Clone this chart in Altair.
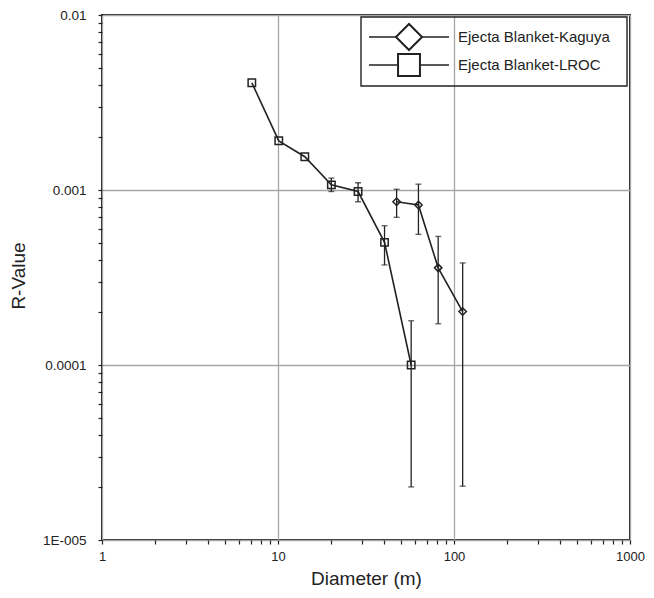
import altair as alt
import pandas as pd

# ---- data ----
kaguya_label = "Ejecta Blanket-Kaguya"
lroc_label = "Ejecta Blanket-LROC"

kag_D = [47.2, 62.8, 81.3, 112.0]
kag_R = [0.000857, 0.00082, 0.000359, 0.000202]
kag_hi = [0.00101, 0.00108, 0.000543, 0.000383]
kag_lo = [0.000698, 0.000558, 0.000172, 0.0000203]

lroc_D = [7.1, 10.1, 14.2, 20.1, 28.5, 40.3, 57.1]
lroc_R = [0.0041, 0.00191, 0.00155, 0.00107, 0.00098, 0.000502, 0.0001]
lroc_hi = [None, None, None, 0.00117, 0.0011, 0.000625, 0.000179]
lroc_lo = [None, None, None, 0.00098, 0.000857, 0.000373, 0.0000201]

x_ticks = [1, 2, 3, 4, 5, 6, 7, 8, 9,
           10, 20, 30, 40, 50, 60, 70, 80, 90,
           100, 200, 300, 400, 500, 600, 700, 800, 900, 1000]
y_ticks = [0.00001, 0.00002, 0.00003, 0.00004, 0.00005, 0.00006, 0.00007, 0.00008, 0.00009,
           0.0001, 0.0002, 0.0003, 0.0004, 0.0005, 0.0006, 0.0007, 0.0008, 0.0009,
           0.001, 0.002, 0.003, 0.004, 0.005, 0.006, 0.007, 0.008, 0.009, 0.01]

rows = []
for d, r, h, l in zip(kag_D, kag_R, kag_hi, kag_lo):
    rows.append({"series": kaguya_label, "D": d, "R": r, "hi": h, "lo": l})
for d, r, h, l in zip(lroc_D, lroc_R, lroc_hi, lroc_lo):
    rows.append({"series": lroc_label, "D": d, "R": r, "hi": h, "lo": l})
df = pd.DataFrame(rows)
err_df = df.dropna(subset=["hi", "lo"])

INK = "#222222"
FONT = "Liberation Sans"
W, H = 528, 525
PAD_L, PAD_T, PAD_R, PAD_B = 94, 7, 16, 50

MAJOR = "abs(log(datum.value)/LN10 - round(log(datum.value)/LN10)) < 1e-6"

xscale = alt.Scale(type="log", domain=[1, 1000], nice=False)
yscale = alt.Scale(type="log", domain=[0.00001, 0.01], nice=False)

x_axis = alt.Axis(
    values=x_ticks, title="Diameter (m)",
    labelExpr=f"({MAJOR}) ? format(datum.value, 'd') : ''",
    labelOverlap=False, labelFlush=False, labelFont=FONT, labelFontSize=13,
    labelColor=INK, labelPadding=6,
    grid=True, gridColor="#a6a6a6", gridWidth=1.3,
    gridOpacity={"condition": {"test": MAJOR, "value": 1}, "value": 0},
    ticks=True, tickSize=4, tickColor=INK, tickWidth=1.2, domain=False,
    titleFont=FONT, titleFontSize=19, titleFontWeight="normal", titleColor=INK,
    titleX=W / 2, titleY=38, titleBaseline="middle", titleAlign="center",
)
y_axis = alt.Axis(
    values=y_ticks, title="R-Value",
    labelExpr=f"({MAJOR}) ? (datum.value < 0.00005 ? '1E-005' : format(datum.value, '~g')) : ''",
    labelOverlap=False, labelFlush=False, labelFont=FONT, labelFontSize=13.5,
    labelColor=INK, labelPadding=12,
    grid=True, gridColor="#a6a6a6", gridWidth=1.3,
    gridOpacity={"condition": {"test": MAJOR, "value": 1}, "value": 0},
    ticks=True, tickSize=4, tickColor=INK, tickWidth=1.2, domain=False,
    titleFont=FONT, titleFontSize=19, titleFontWeight="normal", titleColor=INK,
    titleX=-84, titleY=H / 2 - 2, titleBaseline="middle", titleAlign="center",
    titleAngle=270,
)

shape_scale = alt.Scale(domain=[kaguya_label, lroc_label], range=["diamond", "square"])

base = alt.Chart(df)

lines = base.mark_line(color=INK, strokeWidth=1.6).encode(
    x=alt.X("D:Q", scale=xscale, axis=x_axis),
    y=alt.Y("R:Q", scale=yscale, axis=y_axis),
    detail="series:N",
)

rules = alt.Chart(err_df).mark_rule(color=INK, strokeWidth=1.3).encode(
    x=alt.X("D:Q", scale=xscale),
    y=alt.Y("lo:Q", scale=yscale),
    y2="hi:Q",
)
caps_hi = alt.Chart(err_df).mark_tick(color=INK, orient="horizontal", size=6, thickness=1.3).encode(
    x=alt.X("D:Q", scale=xscale),
    y=alt.Y("hi:Q", scale=yscale),
)
caps_lo = alt.Chart(err_df).mark_tick(color=INK, orient="horizontal", size=6, thickness=1.3).encode(
    x=alt.X("D:Q", scale=xscale),
    y=alt.Y("lo:Q", scale=yscale),
)

points = base.mark_point(filled=False, color=INK, strokeWidth=1.5, size=55, opacity=1).encode(
    x=alt.X("D:Q", scale=xscale),
    y=alt.Y("R:Q", scale=yscale),
    shape=alt.Shape("series:N", scale=shape_scale, legend=None),
)

# ---- hand-drawn legend box (Excel style) ----
leg_df = pd.DataFrame({"k": [0]})
leg = alt.Chart(leg_df)
leg_box = leg.mark_rect(fill=None, stroke=INK, strokeWidth=1.4).encode(
    x=alt.value(259), x2=alt.value(525), y=alt.value(2), y2=alt.value(71)
)
leg_layers = [leg_box]
for label, shp, sz, yy in [(kaguya_label, "diamond", 680, 22), (lroc_label, "square", 480, 50)]:
    leg_layers.append(leg.mark_rule(color=INK, strokeWidth=1.5).encode(
        x=alt.value(267), x2=alt.value(347), y=alt.value(yy)))
    leg_layers.append(leg.mark_point(shape=shp, size=sz, filled=True, fill="white",
                                     stroke=INK, strokeWidth=2, opacity=1).encode(
        x=alt.value(307), y=alt.value(yy)))
    leg_layers.append(leg.mark_text(text=label, align="left", baseline="middle",
                                    font=FONT, fontSize=15, color=INK).encode(
        x=alt.value(356), y=alt.value(yy)))

chart = alt.layer(lines, rules, caps_hi, caps_lo, points, *leg_layers).properties(
    width=W, height=H,
    background="white",
    autosize=alt.AutoSizeParams(type="none"),
    padding={"left": PAD_L, "top": PAD_T, "right": PAD_R, "bottom": PAD_B},
).configure_view(
    stroke=INK, strokeWidth=2
)

chart.save("out.html", embed_options={"renderer": "svg", "actions": False})
